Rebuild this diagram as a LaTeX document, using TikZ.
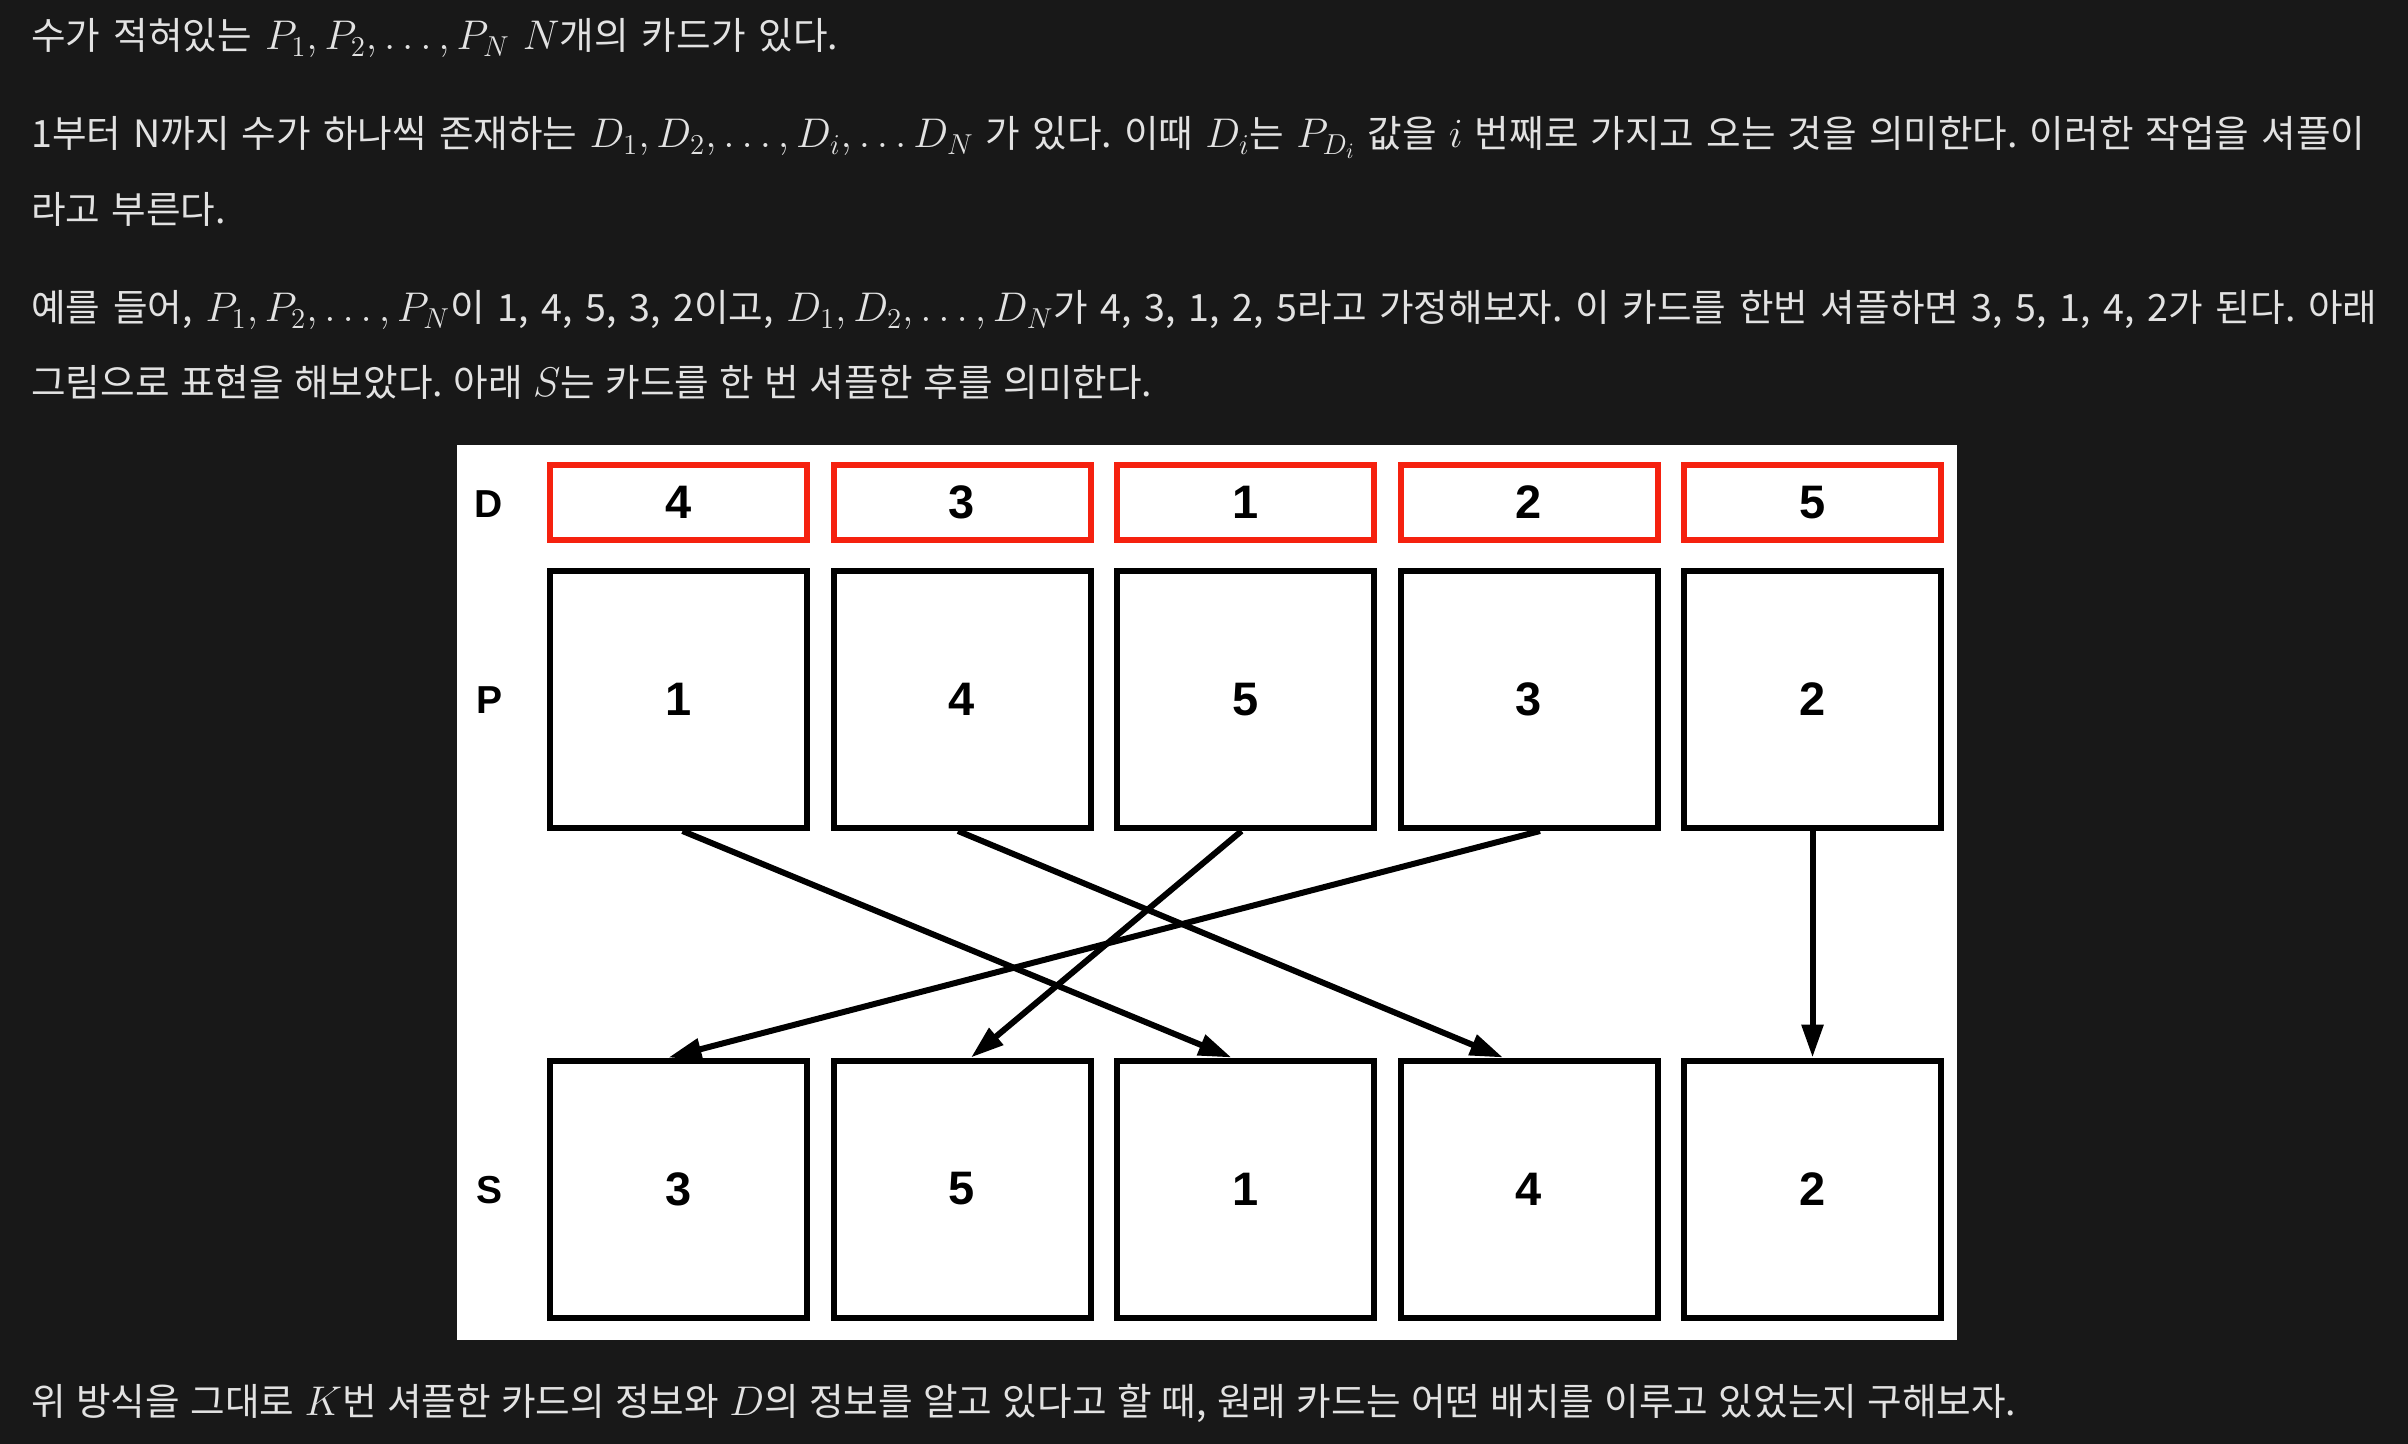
\documentclass[tikz,border=0pt]{standalone}
\usepackage{fontspec}
\setmainfont{Noto Sans CJK KR}[WordSpace=1.3]
\newfontfamily\figfont{Liberation Sans}
\usetikzlibrary{arrows.meta}
\definecolor{bg}{HTML}{181818}
\definecolor{ink}{HTML}{E2E2E2}
\definecolor{dred}{HTML}{F5210F}
\newcommand\mth[1]{{\fontsize{21}{24}\selectfont$#1$}}
\newcommand\fitline[2]{\makebox[#1][s]{#2}}
\frenchspacing

\begin{document}
\begin{tikzpicture}[x=0.5pt,y=-0.5pt,>={Triangle[length=16.5pt,width=10.5pt]},
  txt/.style={anchor=base west,inner sep=0,text=ink,font=\fontsize{18.8}{22}\selectfont},
  card/.style={draw=black,line width=3pt,minimum width=128.5pt,minimum height=128.5pt,inner sep=0,font=\figfont\bfseries\fontsize{23.5}{28}\selectfont},
  dcard/.style={card,draw=dred,minimum height=37.5pt},
  rowlab/.style={font=\figfont\bfseries\fontsize{19.5}{24}\selectfont},
  arr/.style={->,line width=3pt}]
% page and the white panel
\fill[bg] (0,0) rectangle (2408,1444);
\fill[white] (457,445) rectangle (1957,1340);
% the text around the figure, each line set to the width it has
\node[txt] (l1) at (31,50) {\fitline{403.5pt}{수가 적혀있는 \mth{P_1, P_2, \ldots, P_N} \mth{N}개의 카드가 있다.}};
\node[txt] (l2) at (31,148) {\fitline{1167pt}{1부터 N까지 수가 하나씩 존재하는 \mth{D_1, D_2, \ldots, D_i, \ldots D_N} 가 있다. 이때 \mth{D_i}는 \mth{P_{D_i}} 값을 \mth{i} 번째로 가지고 오는 것을 의미한다. 이러한 작업을 셔플이}};
\node[txt] (l3) at (31,224) {라고 부른다.};
\node[txt] (l4) at (31,322) {\fitline{1173pt}{예를 들어, \mth{P_1, P_2, \ldots, P_N}이 1, 4, 5, 3, 2이고, \mth{D_1, D_2, \ldots, D_N}가 4, 3, 1, 2, 5라고 가정해보자. 이 카드를 한번 셔플하면 3, 5, 1, 4, 2가 된다. 아래}};
\node[txt] (l5) at (31,397) {\fitline{560.5pt}{그림으로 표현을 해보았다. 아래 \mth{S}는 카드를 한 번 셔플한 후를 의미한다.}};
\node[txt] (l6) at (31,1415) {\fitline{992.5pt}{위 방식을 그대로 \mth{K}번 셔플한 카드의 정보와 \mth{D}의 정보를 알고 있다고 할 때, 원래 카드는 어떤 배치를 이루고 있었는지 구해보자.}};
% row names
\node[rowlab] (dlab) at (489,504) {D};
\node[rowlab] (plab) at (489,700) {P};
\node[rowlab] (slab) at (489,1190) {S};
% the three rows of cards
\foreach \v [count=\i] in {4,3,1,2,5} {\node[dcard] (d\i) at ({678.5+283.5*(\i-1)},502.5) {\v};}
\foreach \v [count=\i] in {1,4,5,3,2} {\node[card] (p\i) at ({678.5+283.5*(\i-1)},699.5) {\v};}
\foreach \v [count=\i] in {3,5,1,4,2} {\node[card] (s\i) at ({678.5+283.5*(\i-1)},1189) {\v};}
% where each card goes
\draw[arr] ([xshift=2pt]p1.south) -- ([xshift=-7pt]s3.north);
\draw[arr] ([xshift=-2pt]p2.south) -- ([xshift=-13pt]s4.north);
\draw[arr] ([xshift=-2pt]p3.south) -- ([xshift=4.5pt]s2.north);
\draw[arr] ([xshift=5.5pt]p4.south) -- ([xshift=-5pt]s1.north);
\draw[arr] (p5.south) -- (s5.north);
\end{tikzpicture}
\end{document}
